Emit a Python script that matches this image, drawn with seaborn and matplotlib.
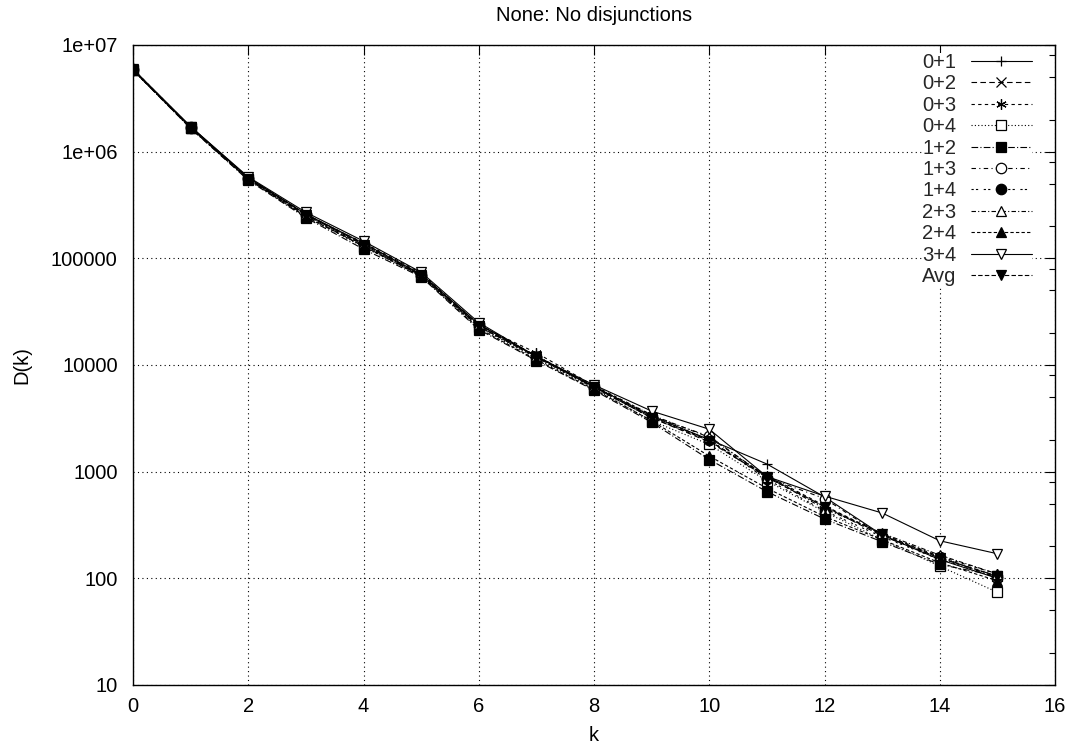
import matplotlib
matplotlib.use("Agg")
import matplotlib.pyplot as plt
import seaborn as sns
import numpy as np
from matplotlib.ticker import LogLocator, FixedLocator, NullFormatter

k = list(range(16))
labels = ["0+1", "0+2", "0+3", "0+4", "1+2", "1+3", "1+4", "2+3", "2+4", "3+4", "Avg"]

s01 = [5.9e6, 1.72e6, 5.7e5, 2.6e5, 1.38e5, 7.1e4, 2.4e4, 1.2e4, 6.3e3, 3.3e3, 2.0e3, 1180, 580, 255, 150, 100]
s02 = [5.8e6, 1.68e6, 5.5e5, 2.5e5, 1.3e5, 6.9e4, 2.3e4, 1.22e4, 6.2e3, 3.2e3, 1.9e3, 900, 470, 250, 155, 105]
s03 = [5.95e6, 1.7e6, 5.6e5, 2.55e5, 1.4e5, 7.3e4, 2.35e4, 1.3e4, 6.4e3, 3.4e3, 1.95e3, 920, 480, 260, 160, 110]
s04 = [5.85e6, 1.66e6, 5.5e5, 2.45e5, 1.28e5, 6.8e4, 2.25e4, 1.15e4, 6.0e3, 3.0e3, 1.8e3, 820, 420, 230, 130, 74]
s12 = [5.8e6, 1.65e6, 5.4e5, 2.4e5, 1.22e5, 6.7e4, 2.15e4, 1.1e4, 5.8e3, 2.9e3, 1.3e3, 650, 360, 220, 135, 105]
s13 = [5.9e6, 1.7e6, 5.65e5, 2.6e5, 1.35e5, 7.0e4, 2.4e4, 1.2e4, 6.2e3, 3.3e3, 2.15e3, 880, 560, 250, 160, 100]
s14 = [5.85e6, 1.68e6, 5.6e5, 2.55e5, 1.33e5, 6.9e4, 2.3e4, 1.18e4, 6.1e3, 3.2e3, 2.0e3, 850, 430, 245, 150, 105]
s23 = [5.9e6, 1.7e6, 5.7e5, 2.6e5, 1.38e5, 7.1e4, 2.4e4, 1.22e4, 6.3e3, 3.4e3, 2.1e3, 900, 450, 265, 165, 110]
s24 = [5.8e6, 1.66e6, 5.5e5, 2.45e5, 1.3e5, 6.8e4, 2.2e4, 1.12e4, 5.9e3, 3.0e3, 1.4e3, 700, 380, 230, 140, 95]
s34 = [5.95e6, 1.72e6, 5.8e5, 2.7e5, 1.45e5, 7.4e4, 2.5e4, 1.2e4, 6.5e3, 3.7e3, 2.5e3, 900, 590, 410, 225, 170]
avg = [5.88e6, 1.69e6, 5.6e5, 2.55e5, 1.34e5, 7.0e4, 2.3e4, 1.18e4, 6.2e3, 3.2e3, 1.95e3, 880, 470, 260, 155, 105]

series = [s01, s02, s03, s04, s12, s13, s14, s23, s24, s34, avg]

styles = [
    dict(marker="+", mfc="black", ls="-"),
    dict(marker="x", mfc="black", ls=(0, (5, 3))),
    dict(marker=(6, 2, 0), mfc="black", ls=(0, (3, 3))),
    dict(marker="s", mfc="white", ls=(0, (1, 2))),
    dict(marker="s", mfc="black", ls=(0, (6, 2, 1, 2))),
    dict(marker="o", mfc="white", ls=(0, (4, 3, 1, 3))),
    dict(marker="o", mfc="black", ls=(0, (2, 2, 2, 5))),
    dict(marker="^", mfc="white", ls=(0, (4, 2, 1, 2))),
    dict(marker="^", mfc="black", ls=(0, (3, 2))),
    dict(marker="v", mfc="white", ls="-"),
    dict(marker="v", mfc="black", ls=(0, (4, 2))),
]

FS = 14.5

sns.set_theme(style="white")
plt.rcParams["font.family"] = ["Liberation Sans", "DejaVu Sans"]

fig = plt.figure(figsize=(10.78, 7.5), dpi=100)
ax = fig.add_axes([133 / 1078, 1 - 685 / 750, (1055 - 133) / 1078, (685 - 45) / 750])

for lab, vals, st in zip(labels, series, styles):
    sns.lineplot(x=k, y=vals, ax=ax, color="black", linewidth=0.8,
                 linestyle=st["ls"], marker=st["marker"],
                 markerfacecolor=st["mfc"], markeredgecolor="black",
                 markeredgewidth=0.9, markersize=7.5, label=lab)

ax.set_yscale("log")
ax.set_xlim(0, 16)
ax.set_ylim(10, 1e7)
ax.set_xticks(range(0, 17, 2))
ax.yaxis.set_major_locator(FixedLocator([10, 100, 1000, 1e4, 1e5, 1e6, 1e7]))
ax.set_yticklabels(["10", "100", "1000", "10000", "100000", "1e+06", "1e+07"])
ax.yaxis.set_minor_locator(LogLocator(base=10, subs=(2.0, 5.0, 8.0)))
ax.yaxis.set_minor_formatter(NullFormatter())

ax.grid(True, which="major", color="black", linestyle=(0, (1, 3)), linewidth=0.8)
ax.tick_params(which="both", direction="in", top=True, right=True, colors="black",
               labelsize=FS, labelcolor="black")
ax.tick_params(axis="y", which="major", length=7, width=0.8, pad=11)
ax.tick_params(axis="x", which="major", length=7, width=0.8, pad=9)
ax.tick_params(which="minor", length=4, width=0.8)
for sp in ax.spines.values():
    sp.set_color("black")
    sp.set_linewidth(1.0)

ax.set_xlabel("k", fontsize=FS, color="black", labelpad=7)
ax.set_ylabel("D(k)", fontsize=FS, color="black", labelpad=14)
ax.set_title("None: No disjunctions", fontsize=FS, color="black", pad=17)

leg = ax.legend(loc="upper right", frameon=True, markerfirst=False, fontsize=FS,
                handlelength=3.05, labelspacing=0.12, borderpad=0.0,
                borderaxespad=0.0, handletextpad=0.7,
                bbox_to_anchor=(1032 / 1078, 1 - 53 / 750),
                bbox_transform=fig.transFigure)
leg.get_frame().set_facecolor("white")
leg.get_frame().set_edgecolor("none")
leg.get_frame().set_alpha(1.0)
leg.get_frame().set_boxstyle("square", pad=0.0)

fig.savefig("out.png", dpi=100)
